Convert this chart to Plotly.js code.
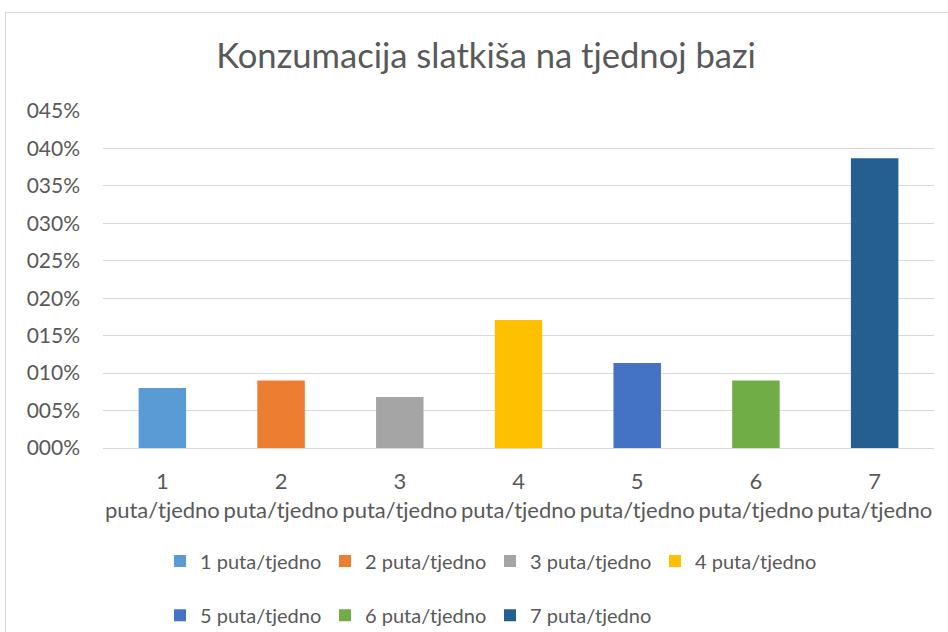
<!DOCTYPE html>
<html>
<head>
<meta charset="utf-8">
<script src="https://cdn.plot.ly/plotly-3.0.1.min.js"></script>
<style>
  html, body { margin: 0; padding: 0; background: #fff; }
  #frame { position: absolute; left: 5px; top: 12px; width: 980px; height: 660px; border: 1px solid #d9d9d9; }
  #chart { position: absolute; left: 0; top: 0; width: 948px; height: 632px; }
</style>
</head>
<body>
<div id="frame"></div>
<div id="chart"></div>
<script>
const categories = ["1 puta/tjedno", "2 puta/tjedno", "3 puta/tjedno", "4 puta/tjedno", "5 puta/tjedno", "6 puta/tjedno", "7 puta/tjedno"];
const tickLabels = ["1<br>puta/tjedno", "2<br>puta/tjedno", "3<br>puta/tjedno", "4<br>puta/tjedno", "5<br>puta/tjedno", "6<br>puta/tjedno", "7<br>puta/tjedno"];
const values = [0.080, 0.090, 0.068, 0.171, 0.1135, 0.090, 0.387];
const colors = ["#5b9bd5", "#ed7d31", "#a5a5a5", "#ffc000", "#4472c4", "#70ad47", "#255e91"];

const FONT = "Lato, 'Open Sans', sans-serif";
const traces = categories.map((c, i) => ({
  type: "bar",
  name: c,
  x: [c],
  y: [values[i]],
  width: 0.4,
  marker: { color: colors[i] },
  legend: i < 4 ? "legend" : "legend2",
  hoverinfo: "x+y"
}));

const legendCommon = {
  orientation: "h",
  xanchor: "left",
  yanchor: "middle",
  font: { family: FONT, size: 20, color: "#595959" },
  bgcolor: "rgba(0,0,0,0)",
  entrywidth: 120,
  entrywidthmode: "pixels",
  itemwidth: 30,
  traceorder: "normal"
};

const layout = {
  width: 948,
  height: 632,
  paper_bgcolor: "rgba(0,0,0,0)",
  plot_bgcolor: "#fff",
  margin: { l: 103, r: 14, t: 111, b: 184, autoexpand: false },
  title: {
    text: "Konzumacija slatkiša na tjednoj bazi",
    font: { family: FONT, size: 34.6, color: "#595959" },
    x: 0.5127, xanchor: "center",
    y: 0.9114, yanchor: "middle", yref: "container"
  },
  barmode: "overlay",
  xaxis: {
    type: "category",
    categoryorder: "array",
    categoryarray: categories,
    tickvals: categories,
    ticktext: tickLabels,
    showgrid: false,
    showline: true,
    linecolor: "#d9d9d9",
    linewidth: 1,
    ticks: "",
    automargin: false,
    ticklabelstandoff: 14,
    tickfont: { family: FONT, size: 22, color: "#595959" },
    fixedrange: true
  },
  yaxis: {
    range: [0, 0.45],
    tickvals: [0, 0.05, 0.10, 0.15, 0.20, 0.25, 0.30, 0.35, 0.40, 0.45],
    tickformat: "04.0%",
    showgrid: true,
    gridcolor: "#d9d9d9",
    gridwidth: 1,
    zeroline: false,
    showline: false,
    ticks: "",
    automargin: false,
    ticklabelstandoff: 22,
    tickfont: { family: FONT, size: 21, color: "#595959" },
    fixedrange: true
  },
  legend: Object.assign({}, legendCommon, { x: 0.0686, y: -0.335 }),
  legend2: Object.assign({}, legendCommon, { x: 0.0686, y: -0.496 }),
  showlegend: true
};

Plotly.newPlot("chart", traces, layout, { displayModeBar: false, responsive: false });
</script>
</body>
</html>
